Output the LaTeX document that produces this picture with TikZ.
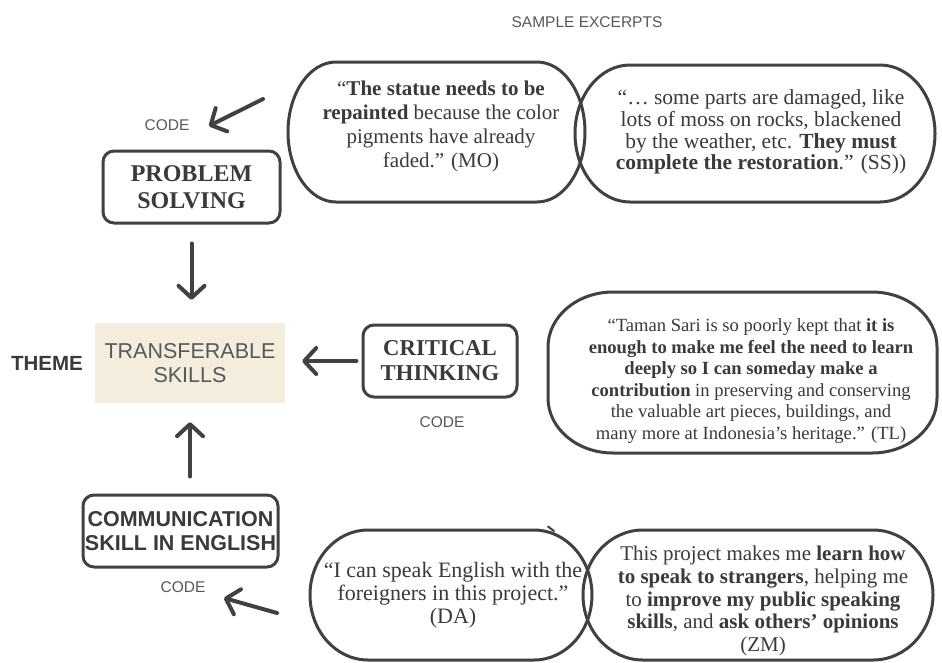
\documentclass[tikz,border=0pt]{standalone}
\usepackage{fontspec}
\setmainfont{Liberation Serif}
\setsansfont{Liberation Sans}
\usetikzlibrary{arrows.meta,calc}
\definecolor{linec}{HTML}{414141}
\definecolor{txtc}{HTML}{3A3A3A}
\definecolor{lightc}{HTML}{585858}
\definecolor{beige}{HTML}{F4EDDE}
\tikzset{
  bubline/.style={draw=linec, line width=3pt},
  bubarea/.style={inner sep=0pt, outer sep=0pt, draw=none},
  quote/.style={align=center, text=txtc, inner sep=0pt},
  codebox/.style={draw=linec, line width=3pt, rounded corners=11pt, align=center, text=txtc, inner sep=0pt, minimum height=72pt},
  codelbl/.style={font=\sffamily\fontsize{15.5}{18}\selectfont, text=lightc},
  arr/.style={draw=linec, line width=4pt, line cap=round, line join=round, -{Straight Barb[length=12pt,width=26pt,round]}},
}
\newcommand\bubbleshape[3]{%
  \draw[bubline] ($(#1.north west)+(#2,0)$) -- ($(#1.north east)+(-#2,0)$)
   arc[start angle=90,end angle=0,x radius=#2pt,y radius=#3pt]
   -- ($(#1.south east)+(0,-#3)$)
   arc[start angle=0,end angle=-90,x radius=#2pt,y radius=#3pt]
   -- ($(#1.south west)+(#2,0)$)
   arc[start angle=270,end angle=180,x radius=#2pt,y radius=#3pt]
   -- ($(#1.north west)+(0,#3)$)
   arc[start angle=180,end angle=90,x radius=#2pt,y radius=#3pt] -- cycle;}
\begin{document}
\begin{tikzpicture}[x=1pt,y=-1pt]
\useasboundingbox[fill=white] (0,0) rectangle (942,662);

% header
\node[codelbl] (hdr) at (587,22) {SAMPLE EXCERPTS};

% theme
\node[font=\sffamily\bfseries\fontsize{20.5}{22}\selectfont, text=txtc] (theme) at (47,363) {THEME};
\node[fill=beige, minimum width=190pt, minimum height=80pt, inner sep=0pt, align=center,
      font=\sffamily\fontsize{21.5}{24}\selectfont, text=lightc] (ts) at (190,363) {TRANSFERABLE\\SKILLS};

% code boxes
\node[codebox, minimum width=177pt, font=\bfseries\fontsize{24}{27}\selectfont] (ps) at (191.5,187) {PROBLEM\\SOLVING};
\node[codebox, minimum width=154pt, font=\bfseries\fontsize{22.7}{25}\selectfont] (ct) at (440,361) {CRITICAL\\THINKING};
\node[codebox, minimum width=195pt, font=\sffamily\bfseries\fontsize{21.5}{23.5}\selectfont] (ce) at (180.5,531) {COMMUNICATION\\SKILL IN ENGLISH};

% code labels
\node[codelbl] (codePS) at (167,125) {CODE};
\node[codelbl] (codeCT) at (442,422) {CODE};
\node[codelbl] (codeCE) at (183,587) {CODE};

% bubbles
\node[bubarea, minimum width=297pt, minimum height=140pt] (bMO) at (436.5,132) {};
\node[bubarea, minimum width=360pt, minimum height=137pt] (bSS) at (755,133.5) {};
\node[bubarea, minimum width=389pt, minimum height=161pt] (bTL) at (742.5,372.5) {};
\node[bubarea, minimum width=282pt, minimum height=130pt] (bDA) at (451,595) {};
\node[bubarea, minimum width=350pt, minimum height=130pt] (bZM) at (758,595) {};
\bubbleshape{bMO}{48}{70}
\bubbleshape{bSS}{55}{68.5}
\bubbleshape{bTL}{65}{55}
\bubbleshape{bDA}{58}{65}
\bubbleshape{bZM}{60}{65}
\draw[linec, line width=2pt, line cap=round] (548,526.5) -- (554,531);

% quotes
\node[quote, font=\fontsize{21}{24}\selectfont] (tMO) at (441,126)
 {“\textbf{The statue needs to be}\\\textbf{repainted} because the color\\pigments have already\\faded.” (MO)};
\node[quote, font=\fontsize{21.5}{21.7}\selectfont] (tSS) at (761,132)
 {“… some parts are damaged, like\\lots of moss on rocks, blackened\\by the weather, etc. \textbf{They must}\\\textbf{complete the restoration}.” (SS))};
\node[quote, font=\fontsize{18.6}{21.6}\selectfont] (tTL) at (751,381)
 {“Taman Sari is so poorly kept that \textbf{it is}\\\textbf{enough to make me feel the need to learn}\\\textbf{deeply so I can someday make a}\\\textbf{contribution} in preserving and conserving\\the valuable art pieces, buildings, and\\many more at Indonesia’s heritage.” (TL)};
\node[quote, font=\fontsize{22}{23.3}\selectfont] (tDA) at (453,595)
 {“I can speak English with the\\foreigners in this project.”\\(DA)};
\node[quote, font=\fontsize{21}{22.8}\selectfont] (tZM) at (763,601)
 {This project makes me \textbf{learn how}\\\textbf{to speak to strangers}, helping me\\to \textbf{improve my public speaking}\\\textbf{skills}, and \textbf{ask others’ opinions}\\(ZM)};

% arrows
\coordinate (moTail) at ($(bMO.west)+(-25,-33)$);
\coordinate (psTip) at ($(codePS.east)+(16,1)$);
\draw[arr] (moTail) -- (psTip);
\draw[arr, shorten <=19pt, shorten >=23pt] (ps.south) -- (ps.south |- ts.north);
\draw[arr, shorten <=5pt, shorten >=17pt] (ct.west) -- (ct.west -| ts.east);
\draw[arr, shorten <=17pt, shorten >=19pt] (ts.south |- ce.north) -- (ts.south);
\coordinate (daTail) at ($(bDA.west)+(-33,18)$);
\coordinate (ceTip) at ($(codeCE.east)+(15,11)$);
\draw[arr] (daTail) -- (ceTip);
\end{tikzpicture}
\end{document}
